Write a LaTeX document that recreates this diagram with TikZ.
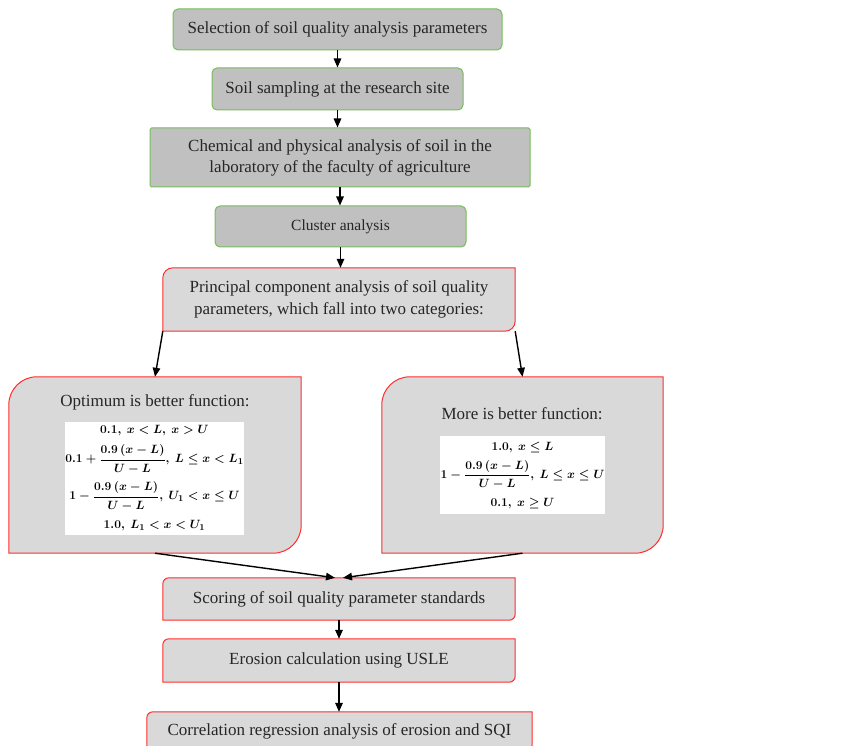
\documentclass[tikz,border=0pt]{standalone}
\usepackage{amsmath}
\usepackage{fontspec}
\setmainfont{Liberation Serif}
\usetikzlibrary{arrows.meta, backgrounds}

\definecolor{boxgreen}{RGB}{118,188,88}
\definecolor{boxred}{RGB}{255,45,45}
\definecolor{darkfill}{RGB}{192,192,192}
\definecolor{lightfill}{RGB}{217,217,217}

\begin{document}
\begin{tikzpicture}[
  x=1pt, y=-1pt,
  font=\fontsize{17}{21}\selectfont,
  stepg/.style={rectangle, rounded corners=5pt, draw=boxgreen, line width=1pt,
                fill=darkfill, inner sep=0pt, align=center, text=black!85},
  stepr/.style={rectangle, inner sep=0pt, align=center, text=black!85},
  frm/.style={rectangle, fill=white, inner sep=0pt, align=center,
              font=\boldmath\fontsize{12.5}{29}\selectfont},
  outl/.style={draw=boxred, line width=1pt, fill=lightfill},
  e/.style={-{Triangle[length=9pt, width=7.5pt]}, line width=1.4pt}
]
\useasboundingbox (0,0) rectangle (857,746);

% ---------------------------------------------- upper chain
\node[stepg, minimum width=329, minimum height=41] (sel) at (337.5, 29.5)
  {Selection of soil quality analysis parameters};
\node[stepg, minimum width=251, minimum height=42] (samp) at (337.5, 89)
  {Soil sampling at the research site};
\node[stepg, rounded corners=1.5pt, minimum width=380, minimum height=59] (chem) at (340, 157.5)
  {Chemical and physical analysis of soil in the\\ laboratory of the faculty of agriculture};
\node[stepg, minimum width=251, minimum height=41, font=\fontsize{15.5}{18}\selectfont] (clus) at (340.5, 226.5)
  {Cluster analysis};
\node[stepr, minimum width=352, minimum height=63, font=\fontsize{17}{22}\selectfont] (pca) at (339, 299.5)
  {Principal component analysis of soil quality\\ parameters, which fall into two categories:};

% ---------------------------------------------- the two categories
\node[stepr, minimum width=292, minimum height=176] (opt)  at (155, 465) {};
\node[stepr, minimum width=281, minimum height=176] (more) at (522.5, 465) {};

\node[stepr] (optlbl)  at (155, 402) {Optimum is better function:};
\node[stepr] (morelbl) at (522, 414) {More is better function:};

\node[frm, minimum width=177, minimum height=113] (optf) at (154.5, 478.5)
  {$0.1,\ x<L,\ x>U$\\
   $\displaystyle 0.1+\frac{0.9\,(x-L)}{U-L},\ L\le x<L_1$\\[8pt]
   $\displaystyle 1-\frac{0.9\,(x-L)}{U-L},\ U_1<x\le U$\\
   $1.0,\ L_1<x<U_1$};
\node[frm, minimum width=165, minimum height=78, font=\boldmath\fontsize{12.5}{28}\selectfont] (moref) at (522.5, 475)
  {$1.0,\ x\le L$\\
   $\displaystyle 1-\frac{0.9\,(x-L)}{U-L},\ L\le x\le U$\\
   $0.1,\ x\ge U$};

% ---------------------------------------------- lower chain
\node[stepr, minimum width=352, minimum height=42] (score) at (339, 599)
  {Scoring of soil quality parameter standards};
\node[stepr, minimum width=352, minimum height=43] (eros) at (339, 660.5)
  {Erosion calculation using USLE};
\node[stepr, minimum width=385, minimum height=38] (corr) at (339.5, 731)
  {Correlation regression analysis of erosion and SQI};

% ---------------------------------------------- outlines, two corners rounded
\begin{scope}[on background layer]
\foreach \n/\r in {pca/10, opt/28, more/28, score/6, eros/6, corr/6}
  \draw[outl] (\n.north east) -- ([xshift=\r pt]\n.north west)
    arc[start angle=90, end angle=180, radius=\r pt] -- (\n.south west)
    -- ([xshift=-\r pt]\n.south east)
    arc[start angle=270, end angle=360, radius=\r pt] -- cycle;
\end{scope}

% ---------------------------------------------- arrows
\draw[e] (sel)  -- (sel |- samp.north);
\draw[e] (samp) -- (samp |- chem.north);
\draw[e] (chem) -- (chem |- clus.north);
\draw[e] (clus) -- (clus |- pca.north);
\draw[e] (pca.south west) -- (opt.north);
\draw[e] (pca.south east) -- (more.north);
\draw[e] (opt.south)  -- ([xshift=-4pt]score.north);
\draw[e] (more.south) -- ([xshift=4pt]score.north);
\draw[e] (score) -- (score |- eros.north);
\draw[e] (eros)  -- (eros |- corr.north);

\end{tikzpicture}
\end{document}
